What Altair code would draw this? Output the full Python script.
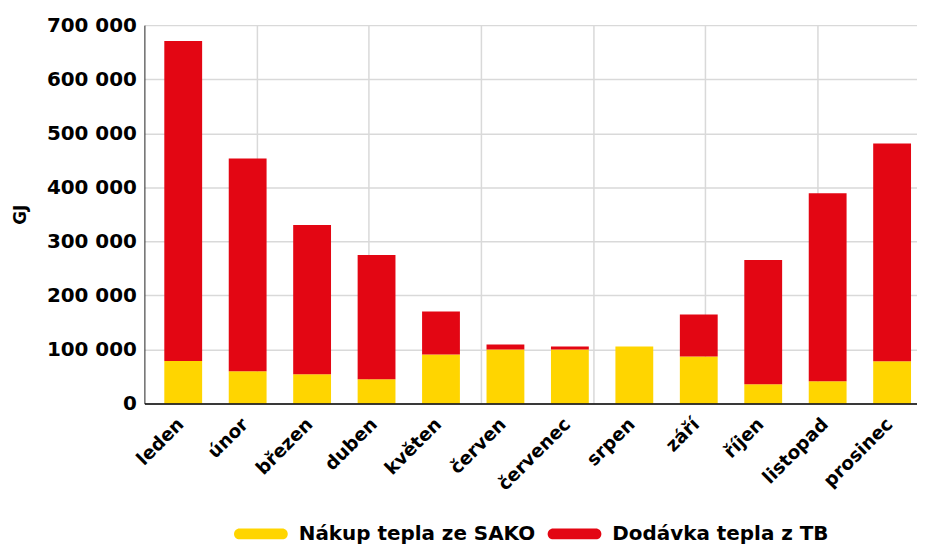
import altair as alt
import pandas as pd

months = ["leden", "únor", "březen", "duben", "květen", "červen",
          "červenec", "srpen", "září", "říjen", "listopad", "prosinec"]
series = ["Nákup tepla ze SAKO", "Dodávka tepla z TB"]
sako = [78400, 59500, 54000, 44700, 90700, 100000, 100000, 105500, 87000, 35500, 41000, 77900]
tb = [592100, 393800, 276000, 230100, 79300, 9000, 5500, 0, 77400, 230100, 348000, 403100]
colors = ["#FFD500", "#E30613"]
y_ticks = [0, 100000, 200000, 300000, 400000, 500000, 600000, 700000]

rows = []
for i, m in enumerate(months):
    rows.append({"month": m, "series": series[0], "value": sako[i], "ord": 0})
    rows.append({"month": m, "series": series[1], "value": tb[i], "ord": 1})
df = pd.DataFrame(rows)

FONT = "DejaVu Sans"
pill = ("M -0.796 -0.204 L 0.796 -0.204 A 0.204 0.204 0 0 1 0.796 0.204 "
        "L -0.796 0.204 A 0.204 0.204 0 0 1 -0.796 -0.204 Z")

bars = alt.Chart(df).mark_bar().encode(
    x=alt.X("month:N", sort=months, title=None,
            scale=alt.Scale(paddingInner=0.413, paddingOuter=0.2008, align=0.769),
            axis=alt.Axis(labelAngle=-45, labelFont=FONT, labelFontWeight="bold",
                          labelFontSize=18.5, labelColor="black", labelPadding=11,
                          labelOffset=-9,
                          ticks=False, domainColor="black", domainWidth=1.5,
                          grid=False, zindex=1)),
    y=alt.Y("value:Q", stack="zero", title="GJ",
            scale=alt.Scale(domain=[0, 700000], nice=False),
            axis=alt.Axis(values=y_ticks, ticks=False, labelFont=FONT,
                          labelFontWeight="bold", labelFontSize=20, labelColor="black",
                          labelPadding=8,
                          labelExpr="datum.value == 0 ? '0' : format(datum.value / 1000, 'd') + ' 000'",
                          domainColor="#222222", domainWidth=1,
                          gridColor="#d9d9d9", gridWidth=1.5,
                          titleFont=FONT, titleFontWeight="bold", titleFontSize=17,
                          titleColor="black", titlePadding=17)),
    color=alt.Color("series:N", sort=series,
                    scale=alt.Scale(domain=series, range=colors),
                    legend=alt.Legend(title=None, orient="none", direction="horizontal",
                                      legendX=90, legendY=484, symbolType=pill,
                                      symbolSize=2916, symbolStrokeWidth=0,
                                      labelFont=FONT, labelFontWeight="bold",
                                      labelFontSize=20, labelColor="black",
                                      labelLimit=500,
                                      labelOffset=11, columnPadding=11, padding=0)),
    order=alt.Order("ord:Q", sort="ascending"),
)

grid = alt.Chart(df).mark_rule(opacity=0).encode(
    x=alt.X(datum=0, type="quantitative",
            scale=alt.Scale(domain=[0, 6.889], nice=False, zero=False),
            axis=alt.Axis(orient="top", values=[1, 2, 3, 4, 5, 6], labels=False,
                          ticks=False, domain=False, grid=True, title=None,
                          gridColor="#d9d9d9", gridWidth=1.5)),
)

chart = alt.layer(grid, bars).resolve_scale(x="independent").properties(
    width=776, height=380,
    autosize=alt.AutoSizeParams(type="none"),
    padding={"left": 137, "top": 16, "right": 0, "bottom": 150},
).configure_view(strokeWidth=0)

chart.save("out.html", embed_options={"renderer": "svg", "actions": False})
